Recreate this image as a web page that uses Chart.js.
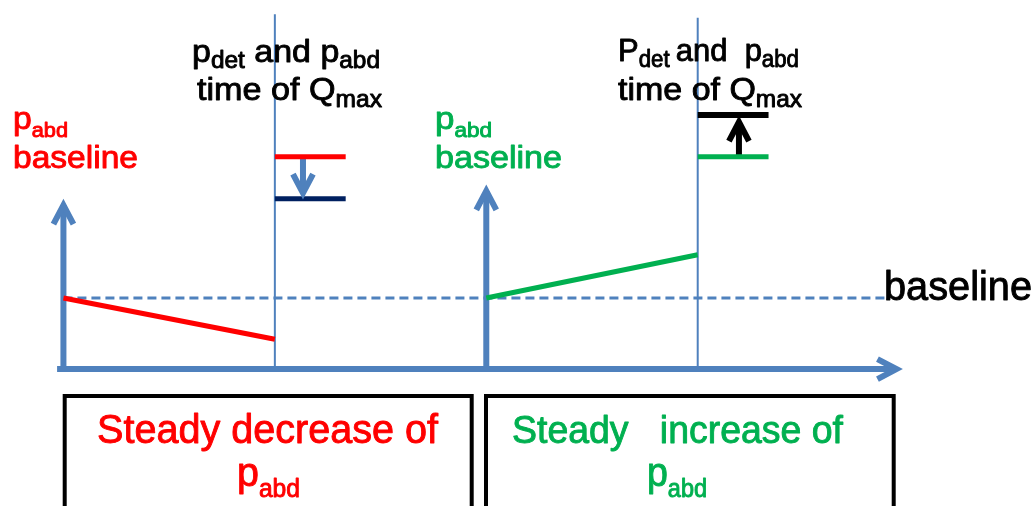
<!DOCTYPE html>
<html>
<head>
<meta charset="utf-8">
<script src="https://cdn.jsdelivr.net/npm/chart.js@4.4.1/dist/chart.umd.min.js"></script>
<style>
    html, body { margin: 0; padding: 0; background: #fff; }
    #wrap { width: 1036px; height: 506px; position: relative; }
</style>
</head>
<body>
<div id="wrap"><canvas id="diagram"></canvas></div>
<script>
// time in arbitrary units: each trace starts at phaseStart, Qmax at qmaxTime
const phaseStart = [0, 20];
const qmaxTime = [10, 30];
const timeAxisRange = [-0.3, 39.4];
const baselineLevel = 10;
const baselineEnd = 38.9;
const decreaseTrace = [10, 4.2];      // p_abd at start, at Qmax
const increaseTrace = [10, 16.1];
const decreaseLevels = [29.9, 24];    // before / after correction
const increaseLevels = [29.9, 35.8];
const levelLength = 3.35;
const correctionX = [11.33, 31.95];
const correctionTips = [24.8, 34.8];
const pressureAxisTops = [23.1, 25.1];
const qmaxMarkerTops = [50, 49.5];

const BLUE = "#4f81bd";
const RED = "#ff0000";
const GREEN = "#00b050";
const NAVY = "#002060";

function seg(x0, y0, x1, y1) {
    return [{ x: x0, y: y0 }, { x: x1, y: y1 }];
}

function lineSet(data, color, width, extra) {
    return Object.assign({
        data: data,
        showLine: true,
        borderColor: color,
        borderWidth: width,
        pointRadius: 0,
        fill: false,
        clip: false,
    }, extra || {});
}

const datasets = [
    // trends
    lineSet(seg(phaseStart[0], decreaseTrace[0], qmaxTime[0], decreaseTrace[1]), RED, 5),
    lineSet(seg(phaseStart[1], increaseTrace[0], qmaxTime[1], increaseTrace[1]), GREEN, 5),
    // levels at Qmax
    lineSet(seg(qmaxTime[0], decreaseLevels[0], qmaxTime[0] + levelLength, decreaseLevels[0]), RED, 5),
    lineSet(seg(qmaxTime[0], decreaseLevels[1], qmaxTime[0] + levelLength, decreaseLevels[1]), NAVY, 5),
    lineSet(seg(qmaxTime[1], increaseLevels[0], qmaxTime[1] + levelLength, increaseLevels[0]), GREEN, 5),
    lineSet(seg(qmaxTime[1], increaseLevels[1], qmaxTime[1] + levelLength, increaseLevels[1]), "#000", 6),
    // correction arrows
    lineSet(seg(correctionX[0], decreaseLevels[0], correctionX[0], correctionTips[0]), BLUE, 6, { arrowHead: true }),
    lineSet(seg(correctionX[1], increaseLevels[0], correctionX[1], correctionTips[1]), "#000", 6, { arrowHead: true }),
    // baseline
    lineSet(seg(phaseStart[0], baselineLevel, baselineEnd, baselineLevel), BLUE, 3, { borderDash: [9, 5] }),
    // Qmax markers
    lineSet(seg(qmaxTime[0], 0, qmaxTime[0], qmaxMarkerTops[0]), BLUE, 2),
    lineSet(seg(qmaxTime[1], 0, qmaxTime[1], qmaxMarkerTops[1]), BLUE, 2),
    // axes
    lineSet(seg(phaseStart[0], 0, phaseStart[0], pressureAxisTops[0]), BLUE, 6, { arrowHead: true }),
    lineSet(seg(phaseStart[1], 0, phaseStart[1], pressureAxisTops[1]), BLUE, 6, { arrowHead: true }),
    lineSet(seg(timeAxisRange[0], 0, timeAxisRange[1], 0), BLUE, 6, { arrowHead: true }),
];

const FONT = '"Liberation Sans", Arial, sans-serif';

// label pieces: sub = subscript
const labels = [
    { x: 192, y: 62, w: 188, size: 32, sub: 23, dy: 6, color: "#000",
      parts: [["p"], ["det", 1], [" and p"], ["abd", 1]] },
    { x: 197, y: 100, w: 185, size: 32, sub: 23, dy: 7, color: "#000",
      parts: [["time of Q"], ["max", 1]] },
    { x: 618, y: 61, w: 181, size: 32, sub: 23, dy: 6, color: "#000",
      parts: [["P"], ["det", 1], ["\u2009and  p"], ["abd", 1]] },
    { x: 618, y: 100, w: 184, size: 32, sub: 23, dy: 7, color: "#000",
      parts: [["time of Q"], ["max", 1]] },
    { x: 13, y: 129, w: 55, size: 31, sub: 20, dy: 8, color: RED,
      parts: [["p"], ["abd", 1]] },
    { x: 13, y: 168, w: 125, size: 31, color: RED, parts: [["baseline"]] },
    { x: 435, y: 129, w: 57, size: 31, sub: 20, dy: 8, color: GREEN,
      parts: [["p"], ["abd", 1]] },
    { x: 435, y: 168, w: 127, size: 31, color: GREEN, parts: [["baseline"]] },
    { x: 884, y: 300, w: 148, size: 40, color: "#000", parts: [["baseline"]] },
    { x: 97, y: 443, w: 341, size: 40, color: RED, parts: [["Steady decrease of"]] },
    { x: 237, y: 486, w: 63, size: 40, sub: 25, dy: 11, color: RED,
      parts: [["p"], ["abd", 1]] },
    { x: 512, y: 443, w: 331, size: 38, color: GREEN, parts: [["Steady   increase of"]] },
    { x: 647, y: 486, w: 60, size: 40, sub: 25, dy: 11, color: GREEN,
      parts: [["p"], ["abd", 1]] },
];

function drawRich(ctx, lb) {
    let total = 0;
    lb.parts.forEach(p => {
        ctx.font = (p[1] ? lb.sub : lb.size) + "px " + FONT;
        total += ctx.measureText(p[0]).width;
    });
    const sx = lb.w ? lb.w / total : 1;
    ctx.save();
    ctx.translate(lb.x, lb.y);
    ctx.scale(sx, 1);
    ctx.fillStyle = lb.color;
    ctx.strokeStyle = lb.color;
    ctx.lineWidth = 0.9;
    ctx.lineJoin = "round";
    ctx.textAlign = "left";
    ctx.textBaseline = "alphabetic";
    let cx = 0;
    lb.parts.forEach(p => {
        ctx.font = (p[1] ? lb.sub : lb.size) + "px " + FONT;
        const yy = p[1] ? lb.dy : 0;
        ctx.fillText(p[0], cx, yy);
        ctx.strokeText(p[0], cx, yy);   // a bit heavier, like the original
        cx += ctx.measureText(p[0]).width;
    });
    ctx.restore();
}

const arrowPlugin = {
    id: "arrowHeads",
    afterDatasetsDraw(chart) {
        const ctx = chart.ctx;
        chart.data.datasets.forEach((ds, i) => {
            if (!ds.arrowHead) return;
            const pts = chart.getDatasetMeta(i).data;
            const a = pts[pts.length - 2], b = pts[pts.length - 1];
            const ang = Math.atan2(b.y - a.y, b.x - a.x);
            const back = 19, half = 10;
            ctx.save();
            ctx.translate(b.x, b.y);
            ctx.rotate(ang);
            ctx.strokeStyle = ds.borderColor;
            ctx.lineWidth = ds.borderWidth;
            ctx.lineJoin = "miter";
            ctx.lineCap = "butt";
            ctx.beginPath();
            ctx.moveTo(-back, -half);
            ctx.lineTo(0, 0);
            ctx.lineTo(-back, half);
            ctx.stroke();
            ctx.restore();
        });
    }
};

const textPlugin = {
    id: "labelsAndBoxes",
    afterDraw(chart) {
        const ctx = chart.ctx;
        ctx.save();
        ctx.strokeStyle = "#000";
        ctx.lineWidth = 4;
        ctx.lineJoin = "miter";
        [[64.7, 471.7], [486, 893.7]].forEach(([l, r]) => {
            ctx.beginPath();
            ctx.moveTo(l, 520);
            ctx.lineTo(l, 396);
            ctx.lineTo(r, 396);
            ctx.lineTo(r, 520);
            ctx.stroke();
        });
        ctx.restore();
        labels.forEach(lb => drawRich(ctx, lb));
    }
};

new Chart(document.getElementById("diagram"), {
    type: "scatter",
    data: { datasets: datasets },
    options: {
        responsive: true,
        maintainAspectRatio: false,
        animation: false,
        layout: { padding: 0 },
        plugins: {
            legend: { display: false },
            tooltip: { enabled: false },
        },
        scales: {
            x: { type: "linear", min: -3, max: 46, display: false },
            y: { type: "linear", min: -19.3, max: 52, display: false },
        },
        elements: { line: { tension: 0 } },
    },
    plugins: [arrowPlugin, textPlugin],
});
</script>
</body>
</html>
